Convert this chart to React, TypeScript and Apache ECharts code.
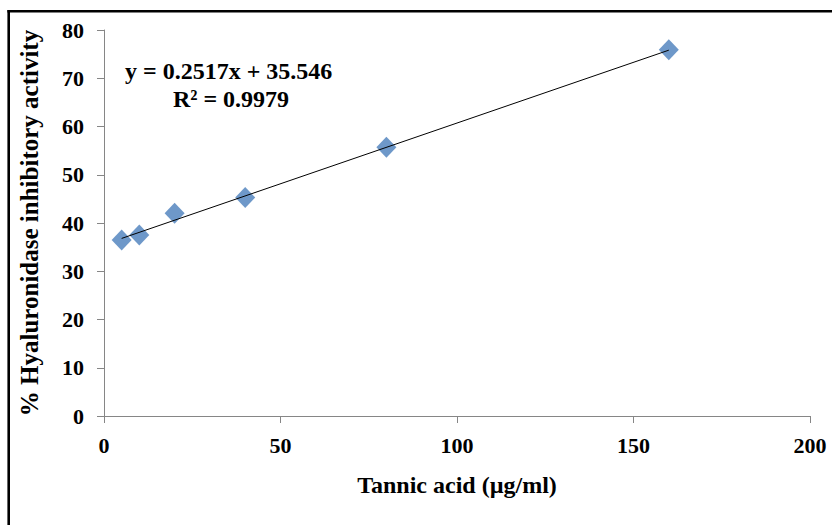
import React, { useEffect, useRef } from "react";
import * as echarts from "echarts";

const concentrations = [5, 10, 20, 40, 80, 160];
const inhibition = [36.5, 37.5, 42.0, 45.3, 55.7, 75.9];
const slope = 0.2517;
const intercept = 35.546;
const trendX = [5, 160];
const xTicks = { min: 0, max: 200, interval: 50 };
const yTicks = { min: 0, max: 80, interval: 10 };
const equationText = "y = 0.2517x + 35.546";
const r2Text = "R² = 0.9979";

export default function App() {
  const ref = useRef<HTMLDivElement>(null);
  useEffect(() => {
    if (!ref.current) return;
    const chart = echarts.init(ref.current, null, { renderer: "svg" });
    const font = "'Liberation Serif', 'Times New Roman', serif";
    const axisColor = "#868686";
    chart.setOption({
      animation: false,
      backgroundColor: "#ffffff",
      grid: { left: 104, right: 22, top: 30, bottom: 109, containLabel: false },
      xAxis: {
        type: "value",
        min: xTicks.min,
        max: xTicks.max,
        interval: xTicks.interval,
        name: "Tannic acid (µg/ml)",
        nameLocation: "middle",
        nameGap: 57,
        nameTextStyle: { fontFamily: font, fontWeight: "bold", fontSize: 24, color: "#000" },
        axisLine: { show: true, lineStyle: { color: axisColor, width: 1 } },
        axisTick: { show: true, length: 7, lineStyle: { color: axisColor } },
        axisLabel: { fontFamily: font, fontWeight: "bold", fontSize: 22, color: "#000", margin: 18 },
        splitLine: { show: false },
      },
      yAxis: {
        type: "value",
        min: yTicks.min,
        max: yTicks.max,
        interval: yTicks.interval,
        name: "% Hyaluronidase inhibitory activity",
        nameLocation: "middle",
        nameGap: 62,
        nameTextStyle: { fontFamily: font, fontWeight: "bold", fontSize: 25, color: "#000" },
        axisLine: { show: true, lineStyle: { color: axisColor, width: 1 } },
        axisTick: { show: true, length: 7, lineStyle: { color: axisColor } },
        axisLabel: { fontFamily: font, fontWeight: "bold", fontSize: 22, color: "#000", margin: 20 },
        splitLine: { show: false },
      },
      series: [
        {
          type: "line",
          data: trendX.map((x) => [x, slope * x + intercept]),
          showSymbol: false,
          symbol: "none",
          lineStyle: { color: "#000", width: 1 },
          z: 3,
        },
        {
          type: "scatter",
          data: concentrations.map((x, i) => [x, inhibition[i]]),
          symbol: "diamond",
          symbolSize: [20, 21],
          itemStyle: { color: "#4a7ebb" },
          z: 2,
        },
      ],
      graphic: [
        { type: "line", shape: { x1: 8.7, y1: 10, x2: 8.7, y2: 525 }, style: { stroke: "#000", lineWidth: 2.6 } },
        { type: "line", shape: { x1: 7.4, y1: 11.2, x2: 832, y2: 11.2 }, style: { stroke: "#000", lineWidth: 2.6 } },
        {
          type: "text",
          x: 125,
          y: 71,
          style: { text: equationText, font: `bold 24px ${font}`, fill: "#000", verticalAlign: "middle", align: "left" },
        },
        {
          type: "text",
          x: 231,
          y: 99,
          style: { text: r2Text, font: `bold 24px ${font}`, fill: "#000", verticalAlign: "middle", align: "center" },
        },
      ],
    });
    return () => chart.dispose();
  }, []);
  return (
    <div
      ref={ref}
      style={{ position: "absolute", left: 0, top: 0, width: 832, height: 525, background: "#fff" }}
    />
  );
}
